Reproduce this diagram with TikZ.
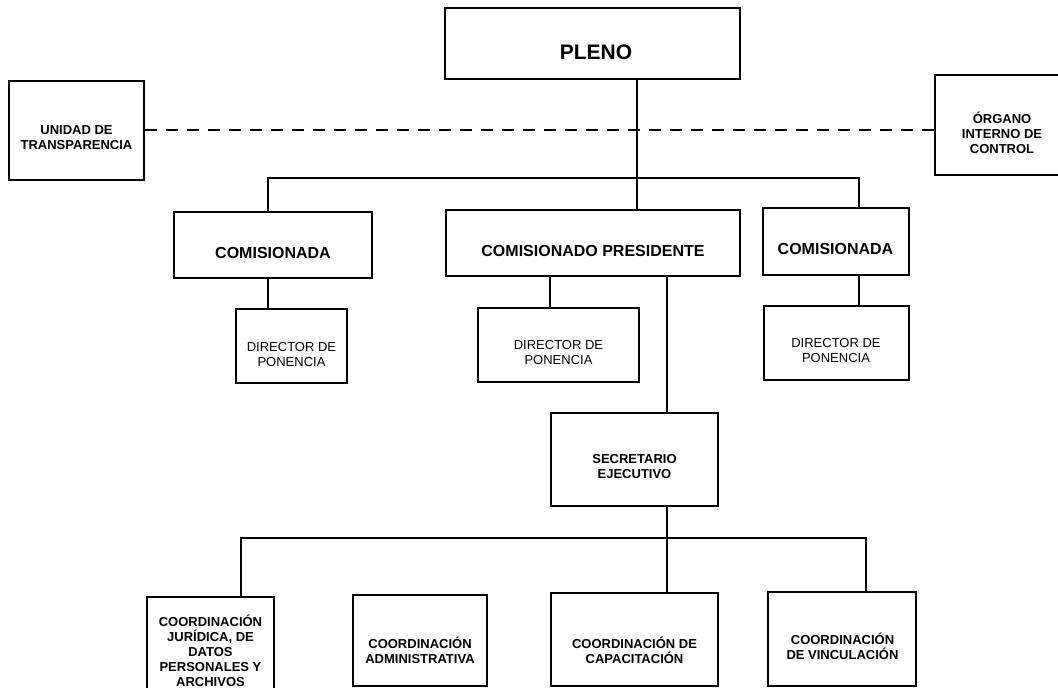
\documentclass[tikz,border=0pt]{standalone}
\usepackage{fontspec}
\setmainfont{Liberation Sans}
\newcommand{\orgbox}[6]{%
  \node[#2, minimum width={(#5-#3)*1pt}, minimum height={(#6-#4)*1pt}] (#1) at ({(#3+#5)/2},{(#4+#6)/2}) {};}
\begin{document}
\begin{tikzpicture}[x=1pt,y=-1pt,
  thinbox/.style={draw, line width=1.4pt, inner sep=0pt},
  thickbox/.style={draw, line width=2.6pt, inner sep=0pt},
  lbl/.style={align=center, font=\bfseries\fontsize{13}{15}\selectfont, inner sep=0pt},
  lblr/.style={align=center, font=\fontsize{13}{15}\selectfont, inner sep=0pt},
  big/.style={align=center, font=\bfseries\fontsize{16}{19}\selectfont, inner sep=0pt},
  huge/.style={align=center, font=\bfseries\fontsize{21}{24}\selectfont, inner sep=0pt},
  conn/.style={line width=1.3pt},
  dashconn/.style={line width=2.6pt, dash pattern=on 12pt off 9pt}]
\useasboundingbox (0,0) rectangle (1058,688);
% boxes
\orgbox{pleno}{thickbox}{445}{8}{740}{79}
\orgbox{unidad}{thickbox}{9}{81}{144}{180}
\orgbox{organo}{thinbox}{935}{75}{1070}{175}
\orgbox{comL}{thinbox}{174}{212}{372}{278}
\orgbox{pres}{thinbox}{446}{210}{740}{276}
\orgbox{comR}{thinbox}{763}{208}{909}{275}
\orgbox{dirL}{thinbox}{236}{309}{347}{383}
\orgbox{dirM}{thinbox}{478}{308}{639}{382}
\orgbox{dirR}{thinbox}{764}{306}{909}{380}
\orgbox{sec}{thinbox}{551}{413}{718}{506}
\orgbox{jur}{thickbox}{147}{597}{274}{702}
\orgbox{adm}{thickbox}{353}{595}{487}{686}
\orgbox{cap}{thickbox}{551}{593}{718}{686}
\orgbox{vin}{thickbox}{768}{592}{916}{686}
% texts
\node[huge] (pleno-t) at (596,52) {PLENO};
\node[lbl] (unidad-t) at (76.5,138) {UNIDAD DE\\TRANSPARENCIA};
\node[lbl] (organo-t) at (1002,133) {ÓRGANO\\INTERNO DE\\CONTROL};
\node[big] (comL-t) at (273,253) {COMISIONADA};
\node[big] (pres-t) at (593,251) {COMISIONADO PRESIDENTE};
\node[big] (comR-t) at (835.5,249) {COMISIONADA};
\node[lblr] (dirL-t) at (291.5,355) {DIRECTOR DE\\PONENCIA};
\node[lblr] (dirM-t) at (558.5,353) {DIRECTOR DE\\PONENCIA};
\node[lblr] (dirR-t) at (836,351) {DIRECTOR DE\\PONENCIA};
\node[lbl] (sec-t) at (634.5,467) {SECRETARIO\\EJECUTIVO};
\node[lbl] (jur-t) at (210.5,650.5) {COORDINACIÓN\\JURÍDICA, DE\\DATOS\\PERSONALES Y\\ARCHIVOS};
\node[lbl] (adm-t) at (420,650) {COORDINACIÓN\\ADMINISTRATIVA};
\node[lbl] (cap-t) at (634.5,650) {COORDINACIÓN DE\\CAPACITACIÓN};
\node[lbl] (vin-t) at (842.5,646) {COORDINACIÓN\\DE VINCULACIÓN};
% connector coordinates
\coordinate (pv) at (637,178);
\coordinate (hl) at (268,178);
\coordinate (hr) at (859,178);
\coordinate (mv) at (550,300);
\coordinate (sv) at (667,500);
\coordinate (bl) at (241,538);
\coordinate (br) at (866,538);
\coordinate (dy) at (500,130);
% connectors
\draw[conn] (pleno.south -| pv) -- (pres.north -| pv);
\draw[conn] (comL.north -| hl) -- (hl) -- (hr) -- (comR.north -| hr);
\draw[conn] (comL.south -| hl) -- (dirL.north -| hl);
\draw[conn] (pres.south -| mv) -- (dirM.north -| mv);
\draw[conn] (comR.south -| hr) -- (dirR.north -| hr);
\draw[conn] (pres.south -| sv) -- (sec.north -| sv);
\draw[conn] (sec.south -| sv) -- (cap.north -| sv);
\draw[conn] (jur.north -| bl) -- (bl) -- (br) -- (vin.north -| br);
\draw[dashconn] (unidad.east |- dy) -- (organo.west |- dy);
\end{tikzpicture}
\end{document}
